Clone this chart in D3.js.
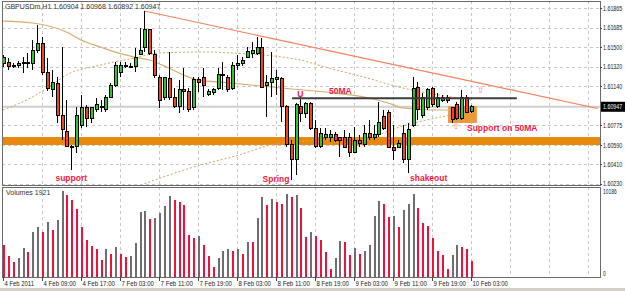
<!DOCTYPE html>
<html>
<head>
<meta charset="utf-8">
<script src="https://cdn.jsdelivr.net/npm/d3@7"></script>
<style>
  body { margin: 0; background: #fff; }
  svg { display: block; font-family: "Liberation Sans", Arial, sans-serif; }
</style>
</head>
<body>
<svg width="625" height="291"></svg>
<script>
// GBPUSDm H1, 4 Feb 2011 -> 10 Feb 03:00 (97 bars)
const open = [
  1.61355,1.61364,1.61336,1.61336,1.61364,1.61355,1.61355,1.61467,1.61541,1.61271,
  1.61104,1.61168,1.60870,1.60721,1.60581,1.60581,1.60777,1.60936,1.60842,1.60917,
  1.60945,1.60917,1.61038,1.61150,1.61271,1.61336,1.61318,1.61318,1.61439,1.61504,
  1.61663,1.61439,1.61224,1.61029,1.61215,1.61038,1.60945,1.61104,1.61085,1.60936,
  1.61197,1.61224,1.61066,1.61076,1.61122,1.61252,1.61224,1.61122,1.61336,1.61355,
  1.61411,1.61448,1.61448,1.61504,1.61150,1.61178,1.61197,1.61215,1.60945,1.60591,
  1.60451,1.60954,1.60889,1.60982,1.60749,1.60581,1.60665,1.60665,1.60693,1.60656,
  1.60665,1.60665,1.60525,1.60637,1.60600,1.60702,1.60665,1.60684,1.60852,1.60898,
  1.60572,1.60572,1.60702,1.60451,1.60777,1.61131,1.60870,1.60936,1.61113,1.60954,
  1.61010,1.61029,1.60936,1.60964,1.60842,1.61038,1.60904
];
const high = [
  1.61429,1.61402,1.61355,1.61373,1.61411,1.61448,1.61570,1.61709,1.61597,1.61402,
  1.61290,1.61224,1.61504,1.61010,1.60591,1.60945,1.61057,1.60964,1.60945,1.61029,
  1.61010,1.61057,1.61168,1.61364,1.61364,1.61364,1.61355,1.61495,1.61681,1.61840,
  1.61672,1.61476,1.61243,1.61224,1.61458,1.61122,1.61197,1.61308,1.61122,1.61224,
  1.61224,1.61308,1.61113,1.61122,1.61308,1.61364,1.61243,1.61364,1.61429,1.61411,
  1.61504,1.61551,1.61597,1.61588,1.61243,1.61458,1.61290,1.61224,1.60964,1.60637,
  1.60982,1.61038,1.60991,1.60991,1.60824,1.60749,1.60749,1.60731,1.60712,1.60665,
  1.60731,1.60702,1.60758,1.60684,1.60777,1.60824,1.60777,1.60991,1.60917,1.60917,
  1.60777,1.60637,1.60777,1.60796,1.61224,1.61178,1.61076,1.61122,1.61131,1.61076,
  1.61057,1.61057,1.60945,1.60991,1.61104,1.61057,1.60968
];
const low = [
  1.61318,1.61290,1.61308,1.61308,1.61262,1.61308,1.61290,1.61448,1.61243,1.61094,
  1.61038,1.60796,1.60637,1.60572,1.60358,1.60516,1.60749,1.60758,1.60796,1.60898,
  1.60898,1.60898,1.61029,1.61131,1.61224,1.61308,1.61308,1.61271,1.61429,1.61458,
  1.61429,1.61215,1.60936,1.61010,1.61010,1.60936,1.60889,1.60917,1.60898,1.60917,
  1.61085,1.61038,1.61048,1.61057,1.61104,1.61104,1.61085,1.61104,1.61290,1.61327,
  1.61402,1.61402,1.61429,1.61122,1.60852,1.61038,1.61057,1.60805,1.60572,1.60264,
  1.60311,1.60805,1.60842,1.60731,1.60563,1.60563,1.60637,1.60619,1.60619,1.60479,
  1.60563,1.60479,1.60516,1.60572,1.60572,1.60637,1.60637,1.60665,1.60731,1.60563,
  1.60451,1.60563,1.60423,1.60330,1.60758,1.60824,1.60842,1.60917,1.60945,1.60936,
  1.60991,1.60982,1.60796,1.60824,1.60824,1.60889,1.60892
];
const close = [
  1.61402,1.61327,1.61327,1.61355,1.61355,1.61364,1.61476,1.61541,1.61271,1.61113,
  1.61178,1.60870,1.60731,1.60581,1.60572,1.60870,1.60936,1.60842,1.60936,1.60964,
  1.60954,1.61038,1.61150,1.61336,1.61336,1.61318,1.61327,1.61411,1.61476,1.61672,
  1.61448,1.61234,1.61010,1.61224,1.61038,1.60945,1.61104,1.61085,1.60917,1.61197,
  1.61178,1.61150,1.61094,1.61104,1.61252,1.61243,1.61104,1.61336,1.61355,1.61383,
  1.61458,1.61476,1.61504,1.61131,1.61178,1.61206,1.61224,1.60945,1.60591,1.60451,
  1.60964,1.60889,1.60982,1.60749,1.60581,1.60702,1.60693,1.60693,1.60637,1.60637,
  1.60572,1.60525,1.60637,1.60609,1.60702,1.60665,1.60684,1.60796,1.60749,1.60572,
  1.60544,1.60609,1.60451,1.60731,1.61122,1.60917,1.61038,1.61104,1.60964,1.61029,
  1.61029,1.61001,1.60824,1.60842,1.61038,1.60898,1.60947
];
const volume = [
  3789,2526,1737,2289,3473,2921,5368,5880,5368,6551,
  5526,6749,10186,9709,9117,8051,5959,4381,3710,3315,
  2013,3315,2763,3591,2723,2408,2526,3986,7735,7814,
  6867,6946,7538,8444,9630,9077,8918,8525,4973,4657,
  4854,3789,2526,1223,2210,3118,3315,3118,3276,2723,
  4180,4120,6950,9510,8525,9235,8918,8643,9827,9510,
  9748,8130,4775,5290,4854,4381,2960,912,2250,4227,
  4150,2605,3434,2723,3114,3789,7258,8998,8643,7068,
  7258,5920,7968,8608,9827,8134,6358,6074,4582,3114,
  2605,912,2605,3753,3552,3280,1921
];

// moving averages (bar index, price)
const maSolidIdx = [0,6,13,16,20,23,27,30,34,37,40,47,57,68,75,79,82,88,96];
const maSolid = [1.61746,1.61728,1.61644,1.61570,1.61504,1.61457,1.61411,1.61383,1.61308,1.61243,1.61197,1.61168,1.61122,1.61075,1.61029,1.60982,1.60936,1.60917,1.60917];
const maUpperIdx = [0,6,10,13,20,27,32,42,47,61,66,74,82,92,96];
const maUpper = [1.60917,1.61038,1.61150,1.61243,1.61336,1.61402,1.61448,1.61458,1.61448,1.61383,1.61318,1.61224,1.61122,1.61038,1.61010];
const maLowerIdx = [29,42,47,57,66,75,82,92,96];
const maLower = [1.60230,1.60423,1.60479,1.60610,1.60637,1.60665,1.60768,1.60870,1.60898];

const priceTicks = [1.61865,1.61685,1.61500,1.61320,1.61140,1.60955,1.60775,1.60590,1.60410,1.60230];
const priceLabels = ["1.61865","1.61685","1.61500","1.61320","1.61140","","1.60775","1.60590","1.60410","1.60230"];
const timeLabels = ["4 Feb 2011","4 Feb 09:00","4 Feb 17:00","7 Feb 03:00","7 Feb 11:00","7 Feb 19:00",
  "8 Feb 03:00","8 Feb 11:00","8 Feb 19:00","9 Feb 03:00","9 Feb 11:00","9 Feb 19:00","10 Feb 03:00"];

const lastPrice = 1.60947;
const trendLine = [[29, 1.61840], [122, 1.60931]];
const resistance = [[59.3, 1.61026], [105.4, 1.61026]];
const supportBand = [1.60591, 1.60665];
const supportBox = [[91.3, 1.60954], [97.2, 1.60796]];

const svg = d3.select("svg");
const L = 2, R = 600, T = 1, B = 185, VT = 187, VB = 277;

const x = d3.scaleLinear().domain([0, 96]).range([3, 471]);
const y = d3.scaleLinear().domain([1.60230, 1.61865]).range([183.7, 8.3]);
const yv = d3.scaleLinear().domain([0, 10186]).range([VB, 191]);

svg.append("rect").attr("width", 625).attr("height", 291).attr("fill", "#fff");
svg.append("rect").attr("x", 0).attr("y", 288).attr("width", 625).attr("height", 3).attr("fill", "#d4d0c8");

svg.append("defs").append("clipPath").attr("id", "main")
  .append("rect").attr("x", L).attr("y", T).attr("width", R - L).attr("height", B - T);

const grid = svg.append("g").attr("stroke", "#c8c8c8").attr("stroke-dasharray", "3,3").attr("shape-rendering", "crispEdges");
priceTicks.forEach(p => {
  grid.append("line").attr("x1", L).attr("x2", R).attr("y1", Math.round(y(p)) + 0.5).attr("y2", Math.round(y(p)) + 0.5);
});
d3.range(8, 121, 8).forEach(i => {
  const xx = Math.round(x(i)) + 0.5;
  grid.append("line").attr("x1", xx).attr("x2", xx).attr("y1", T).attr("y2", B);
  grid.append("line").attr("x1", xx).attr("x2", xx).attr("y1", VT).attr("y2", VB);
});

const g = svg.append("g").attr("clip-path", "url(#main)");

// support band
g.append("rect").attr("x", L).attr("width", R - L)
  .attr("y", y(supportBand[1])).attr("height", y(supportBand[0]) - y(supportBand[1]))
  .attr("fill", "#e8890c");
// bid line
g.append("line").attr("x1", L).attr("x2", R).attr("y1", y(lastPrice)).attr("y2", y(lastPrice))
  .attr("stroke", "#cfcfcf").attr("stroke-width", 2);
// support on 50MA box
g.append("rect").attr("x", x(supportBox[0][0])).attr("y", y(supportBox[0][1]))
  .attr("width", x(supportBox[1][0]) - x(supportBox[0][0])).attr("height", y(supportBox[1][1]) - y(supportBox[0][1]))
  .attr("fill", "#eb9a3a");

const line = d3.line().x(d => x(d[0])).y(d => y(d[1])).curve(d3.curveMonotoneX);
g.append("path").datum(maSolidIdx.map((i, k) => [i, maSolid[k]])).attr("d", line)
  .attr("fill", "none").attr("stroke", "#d6ae70").attr("stroke-width", 1.2);
g.append("path").datum(maUpperIdx.map((i, k) => [i, maUpper[k]])).attr("d", line)
  .attr("fill", "none").attr("stroke", "#d0a45c").attr("stroke-dasharray", "2,2");
g.append("path").datum(maLowerIdx.map((i, k) => [i, maLower[k]])).attr("d", line)
  .attr("fill", "none").attr("stroke", "#d0a45c").attr("stroke-dasharray", "2,2");

const straight = d3.line().x(d => x(d[0])).y(d => y(d[1]));
g.append("path").datum(trendLine).attr("d", straight)
  .attr("stroke", "#f5805a").attr("stroke-width", 1.2).attr("fill", "none");

// candles
const bars = g.append("g").attr("shape-rendering", "crispEdges");
open.forEach((o, i) => {
  const c = close[i];
  const xc = Math.round(x(i));
  bars.append("line").attr("x1", xc + 0.5).attr("x2", xc + 0.5)
    .attr("y1", y(high[i])).attr("y2", y(low[i])).attr("stroke", "#000");
  const top = y(Math.max(o, c)), bot = y(Math.min(o, c));
  bars.append("rect").attr("x", xc - 1).attr("width", 3)
    .attr("y", top).attr("height", Math.max(1, bot - top))
    .attr("fill", c >= o ? "#2fc42f" : "#f2441f").attr("stroke", "#000").attr("stroke-width", 1);
});

g.append("path").datum(resistance).attr("d", straight)
  .attr("stroke", "#3c3c3c").attr("stroke-width", 2);

// up arrows
[[98, 1.61113], [93, 1.60777]].forEach(a => {
  g.append("text").attr("x", x(a[0])).attr("y", y(a[1]) + 4).attr("text-anchor", "middle")
    .attr("font-family", "DejaVu Sans").attr("font-size", 9).attr("fill", "#ff7f86").text("\u21E7");
});

// annotations
const note = (t, xx, yy, anchor) => svg.append("text").attr("x", xx).attr("y", yy)
  .attr("text-anchor", anchor || "start").attr("font-size", 8.5).attr("font-weight", "bold")
  .attr("fill", "#f21840").text(t);
note("support", x(14), 181, "middle");
note("Spring", x(56), 182, "middle");
note("shakeout", 410, 181);
note("U", x(61), 97, "middle");
note("50MA", 329, 94);
note("Support on 50MA", 467, 131);

// volumes
const vg = svg.append("g").attr("shape-rendering", "crispEdges");
volume.forEach((v, i) => {
  const xc = Math.round(x(i));
  const up = i > 0 && v > volume[i - 1];
  vg.append("rect").attr("x", xc).attr("width", 2)
    .attr("y", yv(v)).attr("height", VB - yv(v))
    .attr("fill", up ? "#6e6e6e" : "#f0103c");
});

// frames
const frame = svg.append("g").attr("fill", "none").attr("stroke", "#6a6a6a").attr("shape-rendering", "crispEdges");
frame.append("rect").attr("x", L + 0.5).attr("y", T + 0.5).attr("width", R - L).attr("height", B - T);
frame.append("rect").attr("x", L + 0.5).attr("y", VT + 0.5).attr("width", R - L).attr("height", VB - VT);

// price axis
const ax = svg.append("g").attr("font-size", 6.5).attr("fill", "#222");
const axText = (t, xx, yy) => ax.append("text").attr("x", xx).attr("y", yy)
  .attr("textLength", t.length * 2.75).attr("lengthAdjust", "spacingAndGlyphs").text(t);
priceTicks.forEach((p, k) => {
  if (!priceLabels[k]) return;
  ax.append("line").attr("x1", R).attr("x2", R + 2).attr("y1", Math.round(y(p)) + 0.5).attr("y2", Math.round(y(p)) + 0.5)
    .attr("stroke", "#444");
  axText(priceLabels[k], R + 3, y(p) + 2.5);
});
ax.append("rect").attr("x", R + 1).attr("y", y(lastPrice) - 5).attr("width", 24).attr("height", 10).attr("fill", "#000");
axText(lastPrice.toFixed(5), R + 3, y(lastPrice) + 2.5).attr("fill", "#fff");
axText("10186", R + 3, yv(10186) + 2.5);
axText("0", R + 3, yv(0) - 1);

// time axis
timeLabels.forEach((t, k) => {
  const xx = Math.round(x(k * 8)) + 0.5;
  svg.append("line").attr("x1", xx).attr("x2", xx).attr("y1", VB).attr("y2", VB + 4).attr("stroke", "#444");
  svg.append("text").attr("x", xx + 1).attr("y", 286).attr("font-size", 6.5).attr("fill", "#222")
    .attr("textLength", t.length * 2.95).attr("lengthAdjust", "spacingAndGlyphs").text(t);
});

svg.append("text").attr("x", 5).attr("y", 9).attr("font-size", 7).attr("fill", "#333")
  .text("GBPUSDm,H1  1.60904 1.60968 1.60892 1.60947");
svg.append("text").attr("x", 6).attr("y", 195).attr("font-size", 7).attr("fill", "#333")
  .text("Volumes " + volume[volume.length - 1]);
</script>
</body>
</html>
